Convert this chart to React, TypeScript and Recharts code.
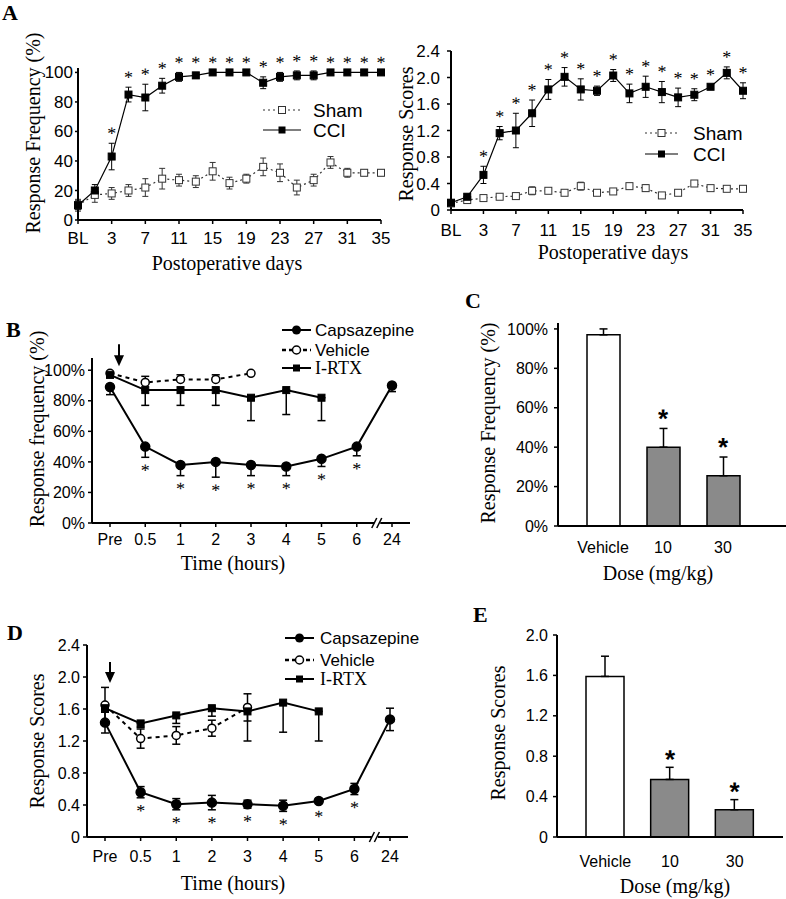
import React from "react";
import {
  ComposedChart,
  Line,
  Bar,
  Cell,
  XAxis,
  YAxis,
  ErrorBar,
  ReferenceDot,
} from "recharts";

const SANS = '"Liberation Sans", Arial, sans-serif';
const SERIF = '"Liberation Serif", "Times New Roman", serif';

// ---- Panel A: postoperative days ----
const days = ["BL", "1", "3", "5", "7", "9", "11", "13", "15", "17", "19", "21", "23", "25", "27", "29", "31", "33", "35"];
const shamFreq = [10, 17, 18, 20, 22, 28, 27, 26, 33, 25, 28, 36, 32, 22, 27, 39, 32, 32, 32];
const shamFreqErr = [4, 5, 4, 4, 6, 7, 4, 4, 6, 4, 3, 6, 6, 5, 4, 4, 3, 2, 2];
const cciFreq = [10, 20, 43, 85, 83, 91, 97, 98, 100, 100, 100, 93, 97, 98, 98, 100, 100, 100, 100];
const cciFreqErr = [3, 4, 9, 5, 9, 5, 3, 2, 0, 0, 0, 4, 3, 3, 3, 0, 0, 0, 0];
const shamScore = [0.1, 0.15, 0.18, 0.2, 0.21, 0.29, 0.29, 0.26, 0.36, 0.26, 0.28, 0.36, 0.33, 0.22, 0.26, 0.4, 0.33, 0.32, 0.32];
const shamScoreErr = [0.03, 0.05, 0.03, 0.03, 0.04, 0.06, 0.03, 0.02, 0.06, 0.02, 0.03, 0.04, 0.05, 0.03, 0.03, 0.04, 0.03, 0.03, 0.03];
const cciScore = [0.11, 0.2, 0.53, 1.16, 1.2, 1.46, 1.82, 2.01, 1.82, 1.8, 2.03, 1.76, 1.86, 1.78, 1.7, 1.74, 1.86, 2.07, 1.8];
const cciScoreErr = [0.03, 0.04, 0.13, 0.1, 0.26, 0.2, 0.15, 0.14, 0.16, 0.07, 0.09, 0.14, 0.16, 0.16, 0.14, 0.09, 0.03, 0.09, 0.12];
const cciStars = [0, 0, 1, 1, 1, 1, 1, 1, 1, 1, 1, 1, 1, 1, 1, 1, 1, 1, 1];

// ---- Panels B & D: time course ----
const hours = ["Pre", "0.5", "1", "2", "3", "4", "5", "6", "24"];
const capFreq = [89, 50, 38, 40, 38, 37, 42, 50, 90];
const capFreqErr = [5, 7, 7, 10, 7, 6, 5, 6, 4];
const vehFreq = [98, 92, 94, 94, 98, null, null, null, null];
const vehFreqErr = [0, 4, 3, 3, 0];
const irtxFreq = [97, 87, 87, 87, 82, 87, 82, null, null];
const irtxFreqErr = [2, 10, 10, 10, 15, 16, 15];
const capScore = [1.43, 0.56, 0.41, 0.43, 0.41, 0.39, 0.45, 0.6, 1.47];
const capScoreErr = [0.13, 0.07, 0.07, 0.09, 0.05, 0.07, 0.03, 0.07, 0.14];
const vehScore = [1.65, 1.23, 1.27, 1.36, 1.62, null, null, null, null];
const vehScoreErr = [0.22, 0.12, 0.11, 0.1, 0.17];
const irtxScore = [1.61, 1.42, 1.52, 1.61, 1.57, 1.68, 1.57, null, null];
const irtxScoreErr = [0.05, 0.05, 0.1, 0.1, 0.37, 0.37, 0.37];
const capStars = [0, 1, 1, 1, 1, 1, 1, 1, 0];

// ---- Panels C & E: dose ----
const doses = ["Vehicle", "10", "30"];
const doseFreq = [97, 40, 25.5];
const doseFreqErr = [3, 9.5, 9.5];
const doseScore = [1.59, 0.57, 0.27];
const doseScoreErr = [0.2, 0.12, 0.1];
const doseStars = [0, 1, 1];

const aFreqData = days.map((d, i) => ({
  day: d,
  sham: shamFreq[i],
  shamErr: shamFreqErr[i],
  cci: cciFreq[i],
  cciErr: cciFreqErr[i],
  star: cciStars[i] ? cciFreq[i] + cciFreqErr[i] : null,
}));
const aScoreData = days.map((d, i) => ({
  day: d,
  sham: shamScore[i],
  shamErr: shamScoreErr[i],
  cci: cciScore[i],
  cciErr: cciScoreErr[i],
  star: cciStars[i] ? cciScore[i] + cciScoreErr[i] : null,
}));
const bData = hours.map((h, i) => ({
  t: h,
  cap: capFreq[i],
  capErr: [capFreqErr[i], 0],
  veh: vehFreq[i],
  vehErr: vehFreqErr[i] != null ? [0, vehFreqErr[i]] : undefined,
  irtx: irtxFreq[i],
  irtxErr: irtxFreqErr[i] != null ? [irtxFreqErr[i], 0] : undefined,
  star: capStars[i] ? capFreq[i] - capFreqErr[i] : null,
}));
const dData = hours.map((h, i) => ({
  t: h,
  cap: capScore[i],
  capErr: capScoreErr[i],
  veh: vehScore[i],
  vehErr: vehScoreErr[i],
  irtx: irtxScore[i],
  irtxErr: irtxScoreErr[i] != null ? [irtxScoreErr[i], 0] : undefined,
  star: capStars[i] ? capScore[i] - capScoreErr[i] : null,
}));
const cData = doses.map((d, i) => ({
  dose: d,
  v: doseFreq[i],
  err: [0, doseFreqErr[i]],
  star: doseStars[i] ? doseFreq[i] + doseFreqErr[i] : null,
}));
const eData = doses.map((d, i) => ({
  dose: d,
  v: doseScore[i],
  err: [0, doseScoreErr[i]],
  star: doseStars[i] ? doseScore[i] + doseScoreErr[i] : null,
}));

const axisLine = { stroke: "#000", strokeWidth: 2 };
const tickLine = { stroke: "#000", strokeWidth: 1.5 };
const tick = (size: number) => ({ fill: "#000", fontSize: size, fontFamily: SANS });
const oneDec = (v: number) => (v === 0 ? "0" : v.toFixed(1));

const ok = (p: any) => Number.isFinite(p.cx) && Number.isFinite(p.cy) && p.value != null;

const square = (size: number, fill: string, stroke = "#000") => (p: any) =>
  ok(p) ? (
    <rect key={p.index} x={p.cx - size / 2} y={p.cy - size / 2} width={size} height={size} fill={fill} stroke={stroke} strokeWidth={1} />
  ) : (
    <g key={p.index} />
  );

const circle = (r: number, fill: string) => (p: any) =>
  ok(p) ? (
    <circle key={p.index} cx={p.cx} cy={p.cy} r={r} fill={fill} stroke="#000" strokeWidth={1.5} />
  ) : (
    <g key={p.index} />
  );

// asterisk drawn relative to the end of the error bar
// (tiny rotation keeps the glyph greyscale-antialiased, no colour fringes)
const star = (dy: number, size: number, family: string, weight = "normal") => (p: any) =>
  ok(p) ? (
    <text
      key={p.index}
      x={p.cx}
      y={p.cy + dy}
      transform={`rotate(0.05 ${p.cx} ${p.cy + dy})`}
      textAnchor="middle"
      fontSize={size}
      fontFamily={family}
      fontWeight={weight}
      fill="#000"
    >
      *
    </text>
  ) : (
    <g key={p.index} />
  );

const arrow = (dx: number, top: number, headTop: number, tip: number) => (p: any) => (
  <g>
    <line x1={p.cx + dx} x2={p.cx + dx} y1={p.cy + top} y2={p.cy + headTop + 2} stroke="#000" strokeWidth={2} />
    <polygon points={`${p.cx + dx - 5},${p.cy + headTop} ${p.cx + dx + 5},${p.cy + headTop} ${p.cx + dx},${p.cy + tip}`} fill="#000" />
  </g>
);

const axisBreak = (p: any) => (
  <g>
    <rect x={p.cx + 17.5} y={p.cy - 2} width={6} height={4} fill="#fff" />
    <line x1={p.cx + 15} y1={p.cy + 5} x2={p.cx + 20} y2={p.cy - 5} stroke="#000" strokeWidth={1.5} />
    <line x1={p.cx + 20} y1={p.cy + 5} x2={p.cx + 25} y2={p.cy - 5} stroke="#000" strokeWidth={1.5} />
  </g>
);

const PanelAFreq = () => (
  <ComposedChart width={393} height={290} data={aFreqData} margin={{ top: 68, right: 12, left: 28, bottom: 40 }}>
    <XAxis dataKey="day" scale="point" interval={1} height={30} axisLine={axisLine} tickLine={tickLine} tickSize={4} tickMargin={8} tick={tick(17)} />
    <YAxis type="number" domain={[0, 103]} ticks={[0, 20, 40, 60, 80, 100]} width={50} axisLine={axisLine} tickLine={tickLine} tickSize={3} tickMargin={2} tick={tick(17)} />
    <Line dataKey="sham" stroke="#333" strokeWidth={1.2} strokeDasharray="2 3" dot={square(7, "#fff", "#333")} activeDot={false} isAnimationActive={false}>
      <ErrorBar dataKey="shamErr" width={3} stroke="#333" strokeWidth={1} />
    </Line>
    <Line dataKey="cci" stroke="#000" strokeWidth={1.2} dot={square(7, "#000")} activeDot={false} isAnimationActive={false}>
      <ErrorBar dataKey="cciErr" width={3} stroke="#000" strokeWidth={1} />
    </Line>
    <Line dataKey="star" stroke="none" dot={star(-4, 18, SERIF)} activeDot={false} isAnimationActive={false} />
  </ComposedChart>
);

const PanelAScore = () => (
  <ComposedChart width={393} height={290} data={aScoreData} margin={{ top: 51, right: 43, left: 8, bottom: 50 }}>
    <XAxis dataKey="day" scale="point" interval={1} height={30} axisLine={axisLine} tickLine={tickLine} tickSize={4} tickMargin={10} tick={tick(17)} />
    <YAxis type="number" domain={[0, 2.4]} ticks={[0, 0.4, 0.8, 1.2, 1.6, 2.0, 2.4]} tickFormatter={oneDec} width={50} axisLine={axisLine} tickLine={tickLine} tickSize={4} tickMargin={7} tick={tick(17)} />
    <Line dataKey="sham" stroke="#333" strokeWidth={1.2} strokeDasharray="2 3" dot={square(7, "#fff", "#333")} activeDot={false} isAnimationActive={false}>
      <ErrorBar dataKey="shamErr" width={3} stroke="#333" strokeWidth={1} />
    </Line>
    <Line dataKey="cci" stroke="#000" strokeWidth={1.2} dot={square(7, "#000")} activeDot={false} isAnimationActive={false}>
      <ErrorBar dataKey="cciErr" width={3} stroke="#000" strokeWidth={1} />
    </Line>
    <Line dataKey="star" stroke="none" dot={star(-4, 18, SERIF)} activeDot={false} isAnimationActive={false} />
  </ComposedChart>
);

const PanelB = () => (
  <ComposedChart width={420} height={300} data={bData} margin={{ top: 68, right: 10, left: 30, bottom: 37 }}>
    <XAxis dataKey="t" scale="point" interval={0} padding={{ left: 18, right: 18 }} height={30} axisLine={axisLine} tickLine={tickLine} tickSize={4} tickMargin={7} tick={tick(16)} />
    <YAxis type="number" domain={[0, 108]} ticks={[0, 20, 40, 60, 80, 100]} tickFormatter={(v: number) => `${v}%`} width={62} axisLine={axisLine} tickLine={tickLine} tickSize={4} tickMargin={3} tick={tick(16)} />
    <ReferenceDot x="6" y={0} ifOverflow="visible" shape={axisBreak} />
    <ReferenceDot x="Pre" y={100} ifOverflow="visible" shape={arrow(9, -26, -15, -4)} />
    <Line dataKey="veh" stroke="#000" strokeWidth={2} strokeDasharray="4 4" dot={circle(4, "#fff")} activeDot={false} isAnimationActive={false}>
      <ErrorBar dataKey="vehErr" width={4} stroke="#000" strokeWidth={1.5} />
    </Line>
    <Line dataKey="irtx" stroke="#000" strokeWidth={2} dot={square(7, "#000")} activeDot={false} isAnimationActive={false}>
      <ErrorBar dataKey="irtxErr" width={4} stroke="#000" strokeWidth={1.5} />
    </Line>
    <Line dataKey="cap" stroke="#000" strokeWidth={2} dot={circle(4.5, "#000")} activeDot={false} isAnimationActive={false}>
      <ErrorBar dataKey="capErr" width={4} stroke="#000" strokeWidth={1.5} />
    </Line>
    <Line dataKey="star" stroke="none" dot={star(19, 18, SERIF)} activeDot={false} isAnimationActive={false} />
  </ComposedChart>
);

const PanelC = () => (
  <ComposedChart width={366} height={300} data={cData} margin={{ top: 33, right: 0, left: 78, bottom: 34 }}>
    <XAxis dataKey="dose" padding={{ left: 15, right: 33 }} height={30} axisLine={axisLine} tickLine={false} tickSize={0} tickMargin={16} tick={tick(16)} />
    <YAxis type="number" domain={[0, 103]} ticks={[0, 20, 40, 60, 80, 100]} tickFormatter={(v: number) => `${v}%`} width={60} axisLine={axisLine} tickLine={tickLine} tickSize={4} tickMargin={6} tick={tick(16)} />
    <Bar dataKey="v" barSize={33} stroke="#000" strokeWidth={1.5} isAnimationActive={false}>
      {doses.map((d, i) => (
        <Cell key={d} fill={i === 0 ? "#fff" : "#8a8a8a"} />
      ))}
      <ErrorBar dataKey="err" width={4} stroke="#000" strokeWidth={1.5} />
    </Bar>
    <Line dataKey="star" stroke="none" dot={star(-1, 26, SANS, "bold")} activeDot={false} isAnimationActive={false} />
  </ComposedChart>
);

const PanelD = () => (
  <ComposedChart width={420} height={309} data={dData} margin={{ top: 55, right: 12, left: 25, bottom: 32 }}>
    <XAxis dataKey="t" scale="point" interval={0} padding={{ left: 18, right: 18 }} height={30} axisLine={axisLine} tickLine={tickLine} tickSize={4} tickMargin={10} tick={tick(16)} />
    <YAxis type="number" domain={[0, 2.4]} ticks={[0, 0.4, 0.8, 1.2, 1.6, 2.0, 2.4]} tickFormatter={oneDec} width={62} axisLine={axisLine} tickLine={tickLine} tickSize={4} tickMargin={3} tick={tick(16)} />
    <ReferenceDot x="6" y={0} ifOverflow="visible" shape={axisBreak} />
    <ReferenceDot x="Pre" y={2.0} ifOverflow="visible" shape={arrow(5, -15, -5, 6)} />
    <Line dataKey="veh" stroke="#000" strokeWidth={2} strokeDasharray="4 4" dot={circle(4, "#fff")} activeDot={false} isAnimationActive={false}>
      <ErrorBar dataKey="vehErr" width={4} stroke="#000" strokeWidth={1.5} />
    </Line>
    <Line dataKey="irtx" stroke="#000" strokeWidth={2} dot={square(7, "#000")} activeDot={false} isAnimationActive={false}>
      <ErrorBar dataKey="irtxErr" width={4} stroke="#000" strokeWidth={1.5} />
    </Line>
    <Line dataKey="cap" stroke="#000" strokeWidth={2} dot={circle(4.5, "#000")} activeDot={false} isAnimationActive={false}>
      <ErrorBar dataKey="capErr" width={4} stroke="#000" strokeWidth={1.5} />
    </Line>
    <Line dataKey="star" stroke="none" dot={star(19, 18, SERIF)} activeDot={false} isAnimationActive={false} />
  </ComposedChart>
);

const PanelE = () => (
  <ComposedChart width={366} height={309} data={eData} margin={{ top: 45, right: 3, left: 77, bottom: 32 }}>
    <XAxis dataKey="dose" padding={{ left: 16, right: 16 }} height={30} axisLine={axisLine} tickLine={false} tickSize={0} tickMargin={19} tick={tick(16)} />
    <YAxis type="number" domain={[0, 2]} ticks={[0, 0.4, 0.8, 1.2, 1.6, 2.0]} tickFormatter={oneDec} width={60} axisLine={axisLine} tickLine={tickLine} tickSize={4} tickMargin={5} tick={tick(16)} />
    <Bar dataKey="v" barSize={38} stroke="#000" strokeWidth={1.5} isAnimationActive={false}>
      {doses.map((d, i) => (
        <Cell key={d} fill={i === 0 ? "#fff" : "#8a8a8a"} />
      ))}
      <ErrorBar dataKey="err" width={4} stroke="#000" strokeWidth={1.5} />
    </Bar>
    <Line dataKey="star" stroke="none" dot={star(1, 26, SANS, "bold")} activeDot={false} isAnimationActive={false} />
  </ComposedChart>
);

// ---- titles, panel letters and legends ----
const VTitle = ({ x, y, text }: { x: number; y: number; text: string }) => (
  <text transform={`translate(${x},${y}) rotate(-90)`} textAnchor="middle" dominantBaseline="central" fontFamily={SERIF} fontSize={20} fill="#000">
    {text}
  </text>
);
const HTitle = ({ x, y, text }: { x: number; y: number; text: string }) => (
  <text x={x} y={y} textAnchor="middle" dominantBaseline="central" fontFamily={SERIF} fontSize={20} fill="#000">
    {text}
  </text>
);
const Letter = ({ x, y, text }: { x: number; y: number; text: string }) => (
  <text x={x} y={y} fontFamily={SERIF} fontWeight="bold" fontSize={22} fill="#000">
    {text}
  </text>
);

type Row = { label: string; dash?: string; lw: number; mark: "open-sq" | "sq" | "dot" | "open-dot"; serif?: boolean };

const LegendBlock = ({ x1, x2, tx, ys, rows, size }: { x1: number; x2: number; tx: number; ys: number[]; rows: Row[]; size: number }) => {
  const mx = (x1 + x2) / 2;
  return (
    <g>
      {rows.map((r, i) => {
        const y = ys[i];
        return (
          <g key={r.label}>
            <line x1={x1} x2={x2} y1={y} y2={y} stroke={r.mark === "open-sq" ? "#333" : "#000"} strokeWidth={r.lw} strokeDasharray={r.dash} />
            {r.mark === "open-sq" && <rect x={mx - 3.5} y={y - 3.5} width={7} height={7} fill="#fff" stroke="#333" strokeWidth={1} />}
            {r.mark === "sq" && <rect x={mx - 3.5} y={y - 3.5} width={7} height={7} fill="#000" />}
            {r.mark === "dot" && <circle cx={mx} cy={y} r={4.5} fill="#000" />}
            {r.mark === "open-dot" && <circle cx={mx} cy={y} r={4} fill="#fff" stroke="#000" strokeWidth={1.5} />}
            <text x={tx} y={y} dominantBaseline="central" fontFamily={r.serif ? SERIF : SANS} fontSize={r.serif ? size + 1 : size} fill="#000">
              {r.label}
            </text>
          </g>
        );
      })}
    </g>
  );
};

const aRows: Row[] = [
  { label: "Sham", dash: "2 3", lw: 1.2, mark: "open-sq" },
  { label: "CCI", lw: 1.2, mark: "sq" },
];
const bRows: Row[] = [
  { label: "Capsazepine", lw: 2, mark: "dot" },
  { label: "Vehicle", dash: "4 3", lw: 2.5, mark: "open-dot" },
  { label: "I-RTX", lw: 2, mark: "sq", serif: true },
];

const Overlay = () => (
  <svg width={786} height={899} style={{ position: "absolute", left: 0, top: 0, pointerEvents: "none" }}>
    <Letter x={2} y={20} text="A" />
    <Letter x={6} y={337} text="B" />
    <Letter x={465} y={308} text="C" />
    <Letter x={7} y={640} text="D" />
    <Letter x={473} y={622} text="E" />

    <VTitle x={33} y={133} text="Response Frequency (%)" />
    <HTitle x={227} y={263} text="Postoperative days" />
    <VTitle x={406} y={134} text="Response Scores" />
    <HTitle x={613} y={252} text="Postoperative days" />
    <VTitle x={37} y={429} text="Response frequency (%)" />
    <HTitle x={233} y={563} text="Time (hours)" />
    <VTitle x={488} y={423} text="Response Frequency (%)" />
    <HTitle x={658} y={573} text="Dose (mg/kg)" />
    <VTitle x={37} y={741} text="Response Scores" />
    <HTitle x={233} y={883} text="Time (hours)" />
    <VTitle x={498} y={733} text="Response Scores" />
    <HTitle x={675} y={886} text="Dose (mg/kg)" />

    <LegendBlock x1={263} x2={301} tx={313} ys={[110, 130]} rows={aRows} size={19} />
    <LegendBlock x1={645} x2={678} tx={693} ys={[133, 154]} rows={aRows} size={19} />
    <LegendBlock x1={282} x2={311} tx={315} ys={[330, 350, 368]} rows={bRows} size={17} />
    <LegendBlock x1={285} x2={314} tx={320} ys={[638, 660, 679]} rows={bRows} size={17} />
  </svg>
);

export default function App() {
  return (
    <div style={{ position: "absolute", left: 0, top: 0, width: 786, height: 899, background: "#fff", overflow: "hidden" }}>
      <div style={{ position: "absolute", left: 0, top: 0 }}>
        <PanelAFreq />
      </div>
      <div style={{ position: "absolute", left: 393, top: 0 }}>
        <PanelAScore />
      </div>
      <div style={{ position: "absolute", left: 0, top: 290 }}>
        <PanelB />
      </div>
      <div style={{ position: "absolute", left: 420, top: 290 }}>
        <PanelC />
      </div>
      <div style={{ position: "absolute", left: 0, top: 590 }}>
        <PanelD />
      </div>
      <div style={{ position: "absolute", left: 420, top: 590 }}>
        <PanelE />
      </div>
      <Overlay />
    </div>
  );
}
